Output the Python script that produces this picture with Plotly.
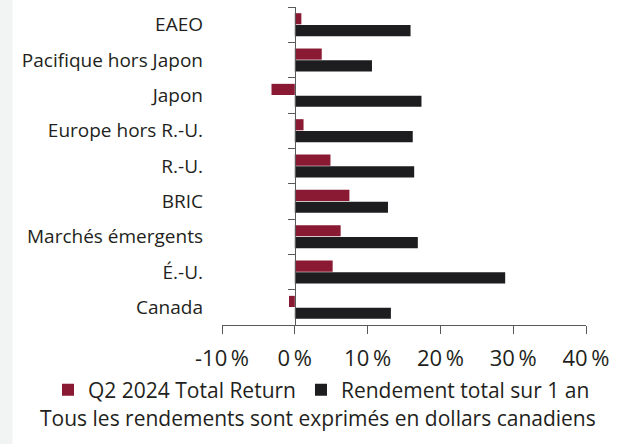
import plotly.graph_objects as go

categories = ["EAEO", "Pacifique hors Japon", "Japon", "Europe hors R.-U.", "R.-U.",
              "BRIC", "Marchés émergents", "É.-U.", "Canada"]
q2_return = [0.9, 3.7, -3.2, 1.2, 4.9, 7.5, 6.3, 5.2, -0.8]
one_year_return = [15.9, 10.6, 17.4, 16.2, 16.4, 12.8, 16.9, 28.9, 13.2]
series_names = ["Q2 2024 Total Return", "Rendement total sur 1 an"]
x_tickvals = [-10, 0, 10, 20, 30, 40]
x_ticktext = ["-10\u2009%", "0\u2009%", "10\u2009%", "20\u2009%", "30\u2009%", "40\u2009%"]
caption = "Tous les rendements sont exprimés en dollars canadiens"

W, H = 618, 444
ML, MR, MT, MB = 222, 32, 7, 119
FONT = "Open Sans"
TXT = "#231f20"
AX = "#58595b"
RED = "#8a1a33"
BLK = "#1d1d1f"

fig = go.Figure()
fig.add_trace(go.Bar(y=categories, x=q2_return, orientation="h", name=series_names[0],
                     marker=dict(color=RED, line=dict(width=0))))
fig.add_trace(go.Bar(y=categories, x=one_year_return, orientation="h", name=series_names[1],
                     marker=dict(color=BLK, line=dict(width=0))))
# helper invisible trace for the axis drawn at zero
fig.add_trace(go.Scatter(x=[0], y=[0], yaxis="y2", mode="markers", marker=dict(opacity=0),
                         showlegend=False, hoverinfo="skip"))

n = len(categories)
xmin, xmax = x_tickvals[0], x_tickvals[-1]
zero_pos = (0 - xmin) / (xmax - xmin)
pw = W - ML - MR
ph = H - MT - MB


def py(p):
    return (MT + ph - p) / ph


def px(p):
    return (p - ML) / pw


fig.update_layout(
    width=W, height=H,
    margin=dict(l=ML, r=MR, t=MT, b=MB, pad=0, autoexpand=False),
    paper_bgcolor="white", plot_bgcolor="white",
    barmode="group", bargap=0.33, bargroupgap=0.06,
    font=dict(family=FONT, color=TXT, size=19),
    xaxis=dict(range=[xmin, xmax], tickvals=x_tickvals, ticktext=x_ticktext,
               showgrid=False, zeroline=False, showline=True, linecolor=AX, linewidth=1.3,
               ticks="outside", ticklen=8, tickcolor=AX, tickwidth=1.3, automargin=False,
               tickfont=dict(size=22, color=TXT), ticklabelstandoff=5),
    yaxis=dict(type="category", range=[n - 0.5, -0.5], showgrid=False, zeroline=False,
               showline=False, ticks="", tickfont=dict(size=19, color=TXT),
               ticklabelstandoff=18, automargin=False),
    yaxis2=dict(overlaying="y", anchor="free", position=zero_pos, side="left",
                range=[n - 0.5, -0.5], tickvals=[i - 0.5 for i in range(n + 1)],
                showticklabels=False, showgrid=False, zeroline=False, automargin=False,
                showline=True, linecolor=AX, linewidth=1.3,
                ticks="outside", ticklen=7, tickcolor=AX, tickwidth=1.3),
    legend=dict(orientation="h", x=px(48), xref="paper", xanchor="left",
                y=py(390), yref="paper", yanchor="middle",
                font=dict(size=21, color=TXT), itemwidth=30, tracegroupgap=0,
                bgcolor="rgba(0,0,0,0)"),
    showlegend=True,
    annotations=[dict(text=caption, xref="paper", yref="paper",
                      x=px(317.5), y=py(418),
                      xanchor="center", yanchor="middle", showarrow=False,
                      font=dict(size=21, color=TXT))],
    shapes=[dict(type="rect", xref="paper", yref="paper", layer="below",
                 x0=px(0), x1=px(12.5), y0=py(H), y1=py(0),
                 fillcolor="#f2f3f3", line=dict(width=0))],
)

fig.write_html("out.html", config={"displayModeBar": False},
               post_script="document.body.style.margin='0';")
